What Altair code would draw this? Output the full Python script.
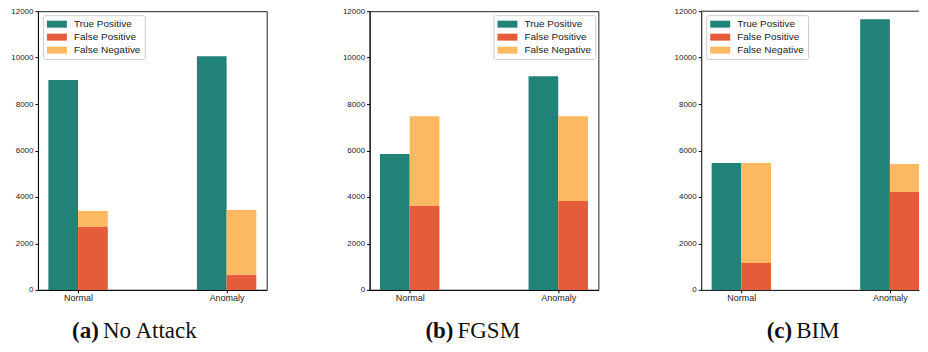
import altair as alt
import pandas as pd

categories = ["Normal", "Anomaly"]
panels = ["No Attack", "FGSM", "BIM"]
letters = ["(a)", "(b)", "(c)"]
true_pos = {"No Attack": [9040, 10060], "FGSM": [5850, 9200], "BIM": [5460, 11650]}
false_pos = {"No Attack": [2710, 650], "FGSM": [3610, 3830], "BIM": [1160, 4215]}
false_neg = {"No Attack": [690, 2790], "FGSM": [3870, 3650], "BIM": [4300, 1200]}

series = ["True Positive", "False Positive", "False Negative"]
colors = ["#218278", "#E45C3A", "#FDB862"]
W = 0.2

legend_x = [5, 124, 5]
cap_x = [61, 84, 91]
widths = [229, 229, 218]
x_max = [1.27, 1.27, 1.196]


def panel(i, name):
    rows = []
    for j, cat in enumerate(categories):
        rows.append(dict(s="True Positive", x=j - W, x2=j, y=0, y2=true_pos[name][j]))
        rows.append(dict(s="False Positive", x=j, x2=j + W, y=0, y2=false_pos[name][j]))
        rows.append(dict(s="False Negative", x=j, x2=j + W, y=false_pos[name][j],
                         y2=false_pos[name][j] + false_neg[name][j]))
    df = pd.DataFrame(rows)
    bars = alt.Chart(df).mark_bar(stroke=None, clip=True).encode(
        x=alt.X("x:Q", scale=alt.Scale(domain=[-0.27, x_max[i]], nice=False, zero=False),
                axis=alt.Axis(values=[0, 1], title=None, grid=False,
                              labelExpr="datum.value == 0 ? 'Normal' : 'Anomaly'",
                              labelFontSize=9, labelColor="#222", tickSize=3,
                              domainColor="#000", tickColor="#000", labelPadding=1)),
        x2="x2:Q",
        y=alt.Y("y:Q", scale=alt.Scale(domain=[0, 12000], nice=False),
                axis=alt.Axis(values=[0, 2000, 4000, 6000, 8000, 10000, 12000], title=None,
                              format="d", grid=False, labelFontSize=8, labelColor="#222",
                              tickSize=3, domainColor="#000", tickColor="#000",
                              labelPadding=2)),
        y2="y2:Q",
        color=alt.Color("s:N", scale=alt.Scale(domain=series, range=colors),
                        legend=alt.Legend(title=None, orient="none",
                                          legendX=legend_x[i], legendY=4,
                                          fillColor="white", strokeColor="#ccc",
                                          cornerRadius=2, padding=4,
                                          symbolType="M-2,-0.7L2,-0.7L2,0.7L-2,0.7Z",
                                          symbolSize=100, symbolStrokeWidth=0,
                                          symbolOpacity=1, symbolOffset=5,
                                          labelFontSize=10, labelColor="#222",
                                          labelOffset=12, rowPadding=3)),
    )
    layers = [bars]
    if i == 2:
        top = alt.Chart(pd.DataFrame({"v": [12000]})).mark_rule(
            color="#222", strokeWidth=1).encode(y="v:Q")
        layers.append(top)
    cap_df = pd.DataFrame({"a": [letters[i]], "b": [name]})
    cap_a = alt.Chart(cap_df).mark_text(
        font="Liberation Serif", fontSize=23, fontWeight="bold", align="right",
        baseline="alphabetic", color="#111").encode(
        text="a:N", x=alt.value(cap_x[i]), y=alt.value(327))
    cap_b = alt.Chart(cap_df).mark_text(
        font="Liberation Serif", fontSize=23, align="left",
        baseline="alphabetic", color="#111").encode(
        text="b:N", x=alt.value(cap_x[i] + 4), y=alt.value(327))
    layers += [cap_a, cap_b]
    view = alt.ViewBackground(stroke="#222", strokeWidth=1) if i < 2 else alt.ViewBackground(stroke=None)
    return alt.layer(*layers).properties(width=widths[i], height=279, view=view)


charts = [panel(i, n) for i, n in enumerate(panels)]
chart = alt.hconcat(*charts, spacing=103, bounds="flush").resolve_scale(
    color="independent").resolve_legend(color="independent").configure_axis(
    labelFont="DejaVu Sans").configure_legend(labelFont="DejaVu Sans").configure(
    padding={"left": 2, "top": -2, "right": 0, "bottom": 0})

chart.save("out.html", embed_options={"renderer": "svg", "actions": False})
